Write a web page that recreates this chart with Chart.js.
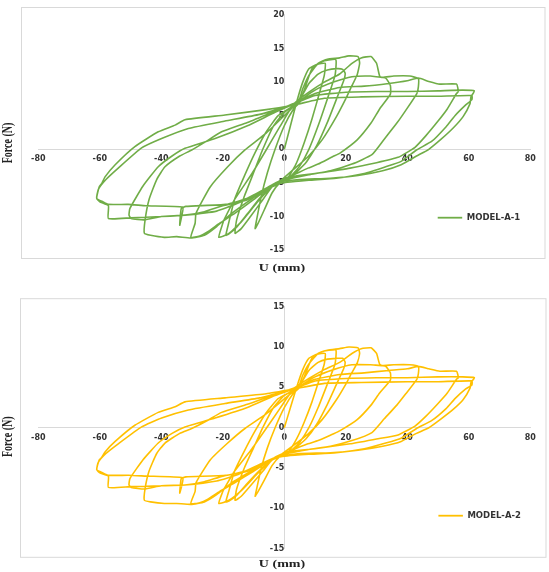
<!DOCTYPE html>
<html>
<head>
<meta charset="utf-8">
<script src="https://cdn.jsdelivr.net/npm/chart.js@4.4.0/dist/chart.umd.min.js"></script>
<style>
  html, body { margin: 0; padding: 0; background: #fff; }
  #wrap { position: relative; width: 549px; height: 572px; }
  canvas { position: absolute; left: 0; }
  #c1 { top: 0; }
  #c2 { top: 280px; }
</style>
</head>
<body>
<div id="wrap">
  <canvas id="c1" width="549" height="280"></canvas>
  <canvas id="c2" width="549" height="292"></canvas>
</div>
<script>
// displacement history U (mm), same protocol for both models, one line per cycle
const dispU = [
  0,2,4,6,8,10.5,13.3, 13,11.5,9,6.5,4,1.5,-1.5,-4,-6.5,-8.5,-9.5, -9,-7.5,-5.5,-3,0,3,5,
  7,9,12,14.5,16.8, 16.5,14,11,8,5,1.5,-2,-4,-7,-11,-14,-16, -15.5,-13,-10,-7,-3.5,0,4.5,
  8,11,14,17,19,19.8,19.3, 17,14,10.5,7,3,-1,-4,-8,-12,-15.5,-18,-19, -18,-16.2,-13,-9.5,-6,-2,4.5,
  6,8,11,14,18,21,24,24.5,23.7,21.5,20.3,17,12.3,7.7,3,-1,-4,-9,-14,-18,-21.3, -20,-19.6,-16.2,-10.5,-5.9,-1.4,3.2,
  8,13,18,22,25,28.2,30,31.1,33,34.5,34.5, 31,28.2,23.7,18,15.7,11,7.7,3,-1,-3.6, -10,-16,-21,-25,-27.5,-30.4, -29,-28.7,-24.1,-18.4,-12.8,-5.9,2,4.5,
  10,16,22,28,32,35.6,40.8,43.6, 43.6,43.1,39.5,36.6,32.5,28.5,22,15,8,1,-3.6, -10,-17,-22,-26,-30.4,-35,-39,-43.5,-45.5, -45.3,-44,-41.5,-38.8,-34,-30.1,-25,-20.4,-12,-4,3,
  10,18,26,34,40,43.6,47,50.6,56, 56.6,56,53,50,46,42.5,37,30,21.4,10,1,-3.6, -12,-20,-26,-32.3,-40,-45.5,-49.8,-50.5, -50.2,-46,-41,-36.5,-32.3,-22.5,-12,-3,4.5,
  10,20,30,40,50,58,61.8, 60.7,60.4,58.2,55,51,47,43,38,32,24,15,5,-1,-3.6, -12,-19,-32,-33.5,-34,-33.3,-33,-45,-50.7,-57.2,-59,-61, -60.2,-59.4,-58.3,-55,-48.6,-41,-35.5,-32.3,-19.3,-5.9,3.2,
  13,25,40,50,61,61,59,55.5,52.7,48,43,38,33,26,16.9,8,1,-3.6, -15,-22,-32.3,-40,-50,-57.2,-57.2,-60,-61, -60.5,-58,-54,-46.4,-39.9,-31.2,-19.3,-8,2,5
];

// force (N), MODEL-A-1
const forceA1 = [
  0,3.5,7,10,12,12.6,12.8, 11,8.5,4.5,1,-2,-4,-5,-6.5,-9,-11,-11.8, -10.5,-7,-3.5,0,3.5,6,7,
  9.5,12,13,13.3,13.3, 11,7.5,3.5,0,-2.5,-4.3,-5.2,-5.6,-7.5,-10,-11.8,-12.5, -10.5,-7,-3.5,0,3.5,5.5,7,
  9.8,11.2,11.8,12,11.9,11.3,10.2, 7.5,4,0.5,-2,-3.8,-4.9,-5.5,-7.3,-9.6,-11.6,-12.6,-12.8, -10.8,-7.5,-4,-0.5,2.5,5,7,
  9,11,12.8,13.4,13.6,13.9,13.8,12.8,11.1,9,7.8,4.9,1.4,-1.1,-3,-4.6,-5.5,-8,-10.8,-12.5,-13.1, -11,-10.5,-7.5,-3.6,-0.1,3.4,6.8,
  8.5,10,11.2,12.8,13.6,13.8,12.8,10.8,10.6,9.5,8.2, 6,3.9,1.4,-0.6,-1.1,-2.2,-2.8,-3.8,-4.6,-5.2, -7.5,-9.5,-11,-12.3,-12.9,-13.1, -11,-9.5,-5.6,-2.6,-0.1,2.4,5.9,7,
  8.8,10,10.8,10.9,10.7,10.9,10.9,10.5, 9.3,8.3,5.8,3.9,1.5,-0.8,-2.2,-3.2,-3.8,-4.5,-5.2, -7.2,-9.5,-11.5,-12.8,-13.2,-13,-13.1,-12.8,-12.5, -10.6,-7.5,-4.5,-2.6,-1,-0.1,1.3,2.6,4,5.5,6.8,
  8.3,9.2,9.4,9.8,10.2,10.6,10.1,9.7,9.7, 8.6,8.3,6,4.2,2,0.3,-1.2,-2,-2.8,-3.6,-4.2,-5.2, -7.5,-8.4,-9.3,-9.8,-10,-10.5,-10.3,-9.8, -8.8,-5.5,-2.6,-1,0.15,1.6,3.5,5.5,7,
  8,8.5,8.6,8.6,8.7,8.8,8.7, 7.8,6.8,4.9,3.2,1.5,0,-1,-2.3,-3.2,-3.9,-4.3,-4.5,-4.8,-5.2, -7.3,-8.2,-8.5,-8.8,-11.3,-9.8,-8.6,-8.4,-8.2,-8.2,-7.8,-7.3, -5.6,-5.1,-4.1,-2.3,0.4,2.6,3.6,4.4,5.1,5.9,6.6,
  7.6,7.8,7.9,7.9,8,7.4,6.6,5,3.4,1.2,-0.1,-1.8,-2.6,-3.6,-4.3,-4.6,-4.9,-5.3, -8,-9.2,-9.8,-10,-10.2,-10.3,-8.4,-7.8,-7.3, -6,-4.5,-2.8,0.2,1.6,3.1,4.2,5.2,6.5,7
];

// force (N), MODEL-A-2
const forceA2 = [
  0,2.5,5,7.2,8.6,9.1,9.2, 7.9,6.1,3.2,0.7,-1.4,-2.9,-3.6,-4.7,-6.5,-7.9,-8.5, -7.6,-5,-2.5,0,2.5,4.3,5,
  6.8,8.6,9.4,9.6,9.6, 7.9,5.4,2.5,0,-1.8,-3.1,-3.7,-4,-5.4,-7.2,-8.5,-9, -7.6,-5,-2.5,0,2.5,4,5,
  7.1,8.1,8.5,8.6,8.6,8.1,7.3, 5.4,2.9,0.4,-1.4,-2.7,-3.5,-4,-5.3,-6.9,-8.4,-9.1,-9.2, -7.8,-5.4,-2.9,-0.4,1.8,3.6,5,
  6.5,7.9,9.2,9.6,9.8,10,9.9,9.2,8,6.5,5.6,3.5,1,-0.8,-2.2,-3.3,-4,-5.8,-7.8,-9,-9.4, -7.9,-7.6,-5.4,-2.6,-0.1,2.4,4.9,
  6.1,7.2,8.1,9.2,9.8,9.9,9.2,7.8,7.6,6.8,5.9, 4.3,2.8,1,-0.4,-0.8,-1.6,-2,-2.7,-3.3,-3.8, -5.4,-6.8,-7.9,-8.9,-9.3,-9.4, -7.9,-6.8,-4,-1.9,-0.1,1.7,4.2,5,
  6.3,7.2,7.8,7.8,7.7,7.8,7.8,7.6, 6.7,6,4.2,2.8,1.1,-0.6,-1.6,-2.3,-2.7,-3.2,-3.8, -5.2,-6.8,-8.3,-9.2,-9.5,-9.4,-9.4,-9.2,-9, -7.6,-5.4,-3.2,-1.9,-0.7,-0.1,0.9,1.9,2.9,4,4.9,
  6,6.6,6.8,7.1,7.3,7.6,7.3,7,7, 6.2,6,4.3,3,1.4,0.2,-0.9,-1.4,-2,-2.6,-3,-3.8, -5.4,-6,-6.7,-7.1,-7.2,-7.6,-7.4,-7.1, -6.3,-4,-1.9,-0.7,0.1,1.2,2.5,4,5,
  5.8,6.1,6.2,6.2,6.3,6.3,6.2, 5.6,4.9,3.5,2.3,1.1,0,-0.7,-1.7,-2.3,-2.8,-3.1,-3.2,-3.5,-3.8, -5.3,-5.9,-6.1,-6.3,-8.1,-7.1,-6.2,-6,-5.9,-5.9,-5.6,-5.2, -4,-3.7,-3,-1.7,0.3,1.9,2.6,3.2,3.7,4.2,4.8,
  5.5,5.6,5.7,5.7,5.8,5.3,4.8,3.6,2.4,0.9,-0.1,-1.3,-1.9,-2.6,-3.1,-3.3,-3.5,-3.8, -5.8,-6.6,-7.1,-7.2,-7.3,-7.4,-6,-5.6,-5.2, -4.3,-3.2,-2,0.1,1.2,2.2,3,3.7,4.7,5
];

// axis ranges [min, max, step]
const uRange = [-80, 80, 20];
const fRangeA1 = [-15, 20, 5];
const fRangeA2 = [-15, 15, 5];

const tickFont = {family: '"DejaVu Sans"', size: 8, weight: 'bold'};

// frame, axis titles and legend, Excel style
const decor = {
  id: 'decor',
  beforeDraw(chart, args, o) {
    const ctx = chart.ctx;
    ctx.save();
    ctx.fillStyle = '#fff';
    ctx.fillRect(0, 0, chart.width, chart.height);
    ctx.strokeStyle = '#d9d9d9';
    ctx.lineWidth = 1;
    ctx.strokeRect(o.box[0], o.box[1], o.box[2], o.box[3]);
    ctx.restore();
  },
  afterDraw(chart, args, o) {
    const ctx = chart.ctx;
    const ds = chart.data.datasets[0];
    ctx.save();
    ctx.strokeStyle = ds.borderColor;
    ctx.lineWidth = 1.8;
    ctx.beginPath();
    ctx.moveTo(o.legend[0], o.legend[2]);
    ctx.lineTo(o.legend[1], o.legend[2]);
    ctx.stroke();
    ctx.fillStyle = '#333';
    ctx.font = 'bold 8.5px "DejaVu Sans"';
    ctx.textAlign = 'left';
    ctx.textBaseline = 'middle';
    ctx.fillText(ds.label, o.legend[1] + 4.5, o.legend[2]);

    ctx.fillStyle = '#222';
    ctx.font = 'bold 10px "Liberation Serif"';
    ctx.textAlign = 'center';
    ctx.save();
    ctx.translate(o.xTitle[0], o.xTitle[1]);
    ctx.scale(1.4, 1);
    ctx.fillText('U (mm)', 0, 0);
    ctx.restore();
    ctx.save();
    ctx.translate(o.yTitle[0], o.yTitle[1]);
    ctx.scale(1.4, 1);
    ctx.rotate(-Math.PI / 2);
    ctx.fillText('Force (N)', 0, 0);
    ctx.restore();
    ctx.restore();
  }
};

function makeChart(id, label, color, force, fRange, padding, deco) {
  const pts = dispU.map((u, i) => ({x: u, y: force[i]}));
  return new Chart(document.getElementById(id), {
    type: 'scatter',
    data: {
      datasets: [{
        label: label,
        data: pts,
        showLine: true,
        borderColor: color,
        borderWidth: 1.6,
        pointRadius: 0,
        tension: 0.15,
        fill: false
      }]
    },
    options: {
      responsive: false,
      animation: false,
      devicePixelRatio: 1,
      layout: {padding: padding},
      plugins: {
        legend: {display: false},
        tooltip: {enabled: false},
        decor: deco
      },
      scales: {
        x: {
          type: 'linear',
          position: {y: 0},
          min: uRange[0], max: uRange[1],
          grid: {display: false, drawTicks: false},
          border: {display: true, color: '#d9d9d9', width: 1},
          ticks: {stepSize: uRange[2], autoSkip: false, maxRotation: 0, padding: 5, color: '#333', font: tickFont}
        },
        y: {
          type: 'linear',
          position: {x: 0},
          min: fRange[0], max: fRange[1],
          grid: {display: false, drawTicks: false},
          border: {display: true, color: '#d9d9d9', width: 1},
          ticks: {stepSize: fRange[2], autoSkip: false, padding: 9, color: '#333', font: tickFont}
        }
      }
    },
    plugins: [decor]
  });
}

makeChart('c1', 'MODEL-A-1', '#70AD47', forceA1, fRangeA1,
  {left: 38.3, right: 18.7, top: 14.9, bottom: 29.9},
  {box: [21.5, 7.5, 523.5, 251], legend: [437.7, 462.2, 217.7], xTitle: [282, 268], yTitle: [8, 143]});

makeChart('c2', 'MODEL-A-2', '#FFC000', forceA2, fRangeA2,
  {left: 38.3, right: 18.7, top: 26.7, bottom: 23.3},
  {box: [20.5, 18.7, 525.5, 258.6], legend: [438.4, 462.9, 235.7], xTitle: [282, 284], yTitle: [8, 156.7]});
</script>
</body>
</html>
